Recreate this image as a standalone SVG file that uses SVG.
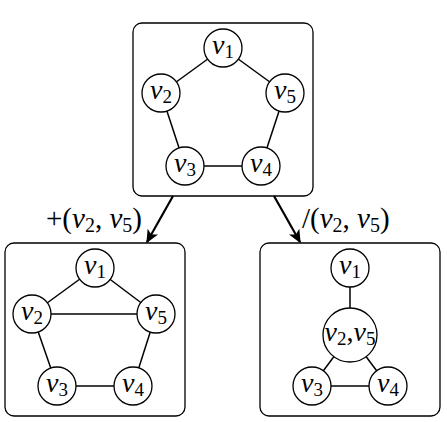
<svg xmlns="http://www.w3.org/2000/svg" width="447" height="422" viewBox="0 0 447 422">
<style>
.box{fill:#fff;stroke:#000;stroke-width:1.3}
.node{fill:#fff;stroke:#000;stroke-width:1.3}
.edge{stroke:#000;stroke-width:1.5;fill:none}
.arr{stroke:#000;stroke-width:2.2;fill:none}
text{font-family:"Liberation Serif","DejaVu Serif",serif;fill:#000}
.lbl{font-size:28px;text-anchor:middle}
.v{font-style:italic}
.s{font-size:19px}
.el{font-size:29px}
.es{font-size:20px}
</style>
<defs>
<marker id="ah" viewBox="0 0 10 10" refX="9" refY="5" markerWidth="6" markerHeight="6" orient="auto" markerUnits="strokeWidth">
<path d="M0,0.5 L10,5 L0,9.5 L2.5,5 Z" fill="#000"/>
</marker>
</defs>
<rect class="box" x="133" y="23" width="180" height="173" rx="9"/>
<rect class="box" x="5" y="243" width="180" height="173" rx="9"/>
<rect class="box" x="260" y="243" width="180" height="173" rx="9"/>
<g id="connectors">
<line class="edge" x1="223" y1="48" x2="161" y2="93"/>
<line class="edge" x1="223" y1="48" x2="285" y2="93"/>
<line class="edge" x1="161" y1="93" x2="185" y2="166"/>
<line class="edge" x1="285" y1="93" x2="261" y2="166"/>
<line class="edge" x1="185" y1="166" x2="261" y2="166"/>
<line class="edge" x1="95" y1="268" x2="32" y2="314"/>
<line class="edge" x1="95" y1="268" x2="156" y2="314"/>
<line class="edge" x1="32" y1="314" x2="156" y2="314"/>
<line class="edge" x1="32" y1="314" x2="57" y2="386"/>
<line class="edge" x1="156" y1="314" x2="133" y2="386"/>
<line class="edge" x1="57" y1="386" x2="133" y2="386"/>
<line class="edge" x1="350" y1="268" x2="350" y2="335"/>
<line class="edge" x1="350" y1="335" x2="312" y2="386"/>
<line class="edge" x1="350" y1="335" x2="388" y2="386"/>
<line class="edge" x1="312" y1="386" x2="388" y2="386"/>
<line class="arr" x1="173" y1="196" x2="147" y2="242" marker-end="url(#ah)"/>
<line class="arr" x1="274" y1="196" x2="300" y2="242" marker-end="url(#ah)"/>
</g>
<g id="t1"><circle class="node" cx="223" cy="48" r="19"/><text class="lbl" x="223" y="54"><tspan class="v">v</tspan><tspan class="s" dy="4">1</tspan></text></g>
<g id="t2"><circle class="node" cx="161" cy="93" r="19"/><text class="lbl" x="161" y="99"><tspan class="v">v</tspan><tspan class="s" dy="4">2</tspan></text></g>
<g id="t5"><circle class="node" cx="285" cy="93" r="19"/><text class="lbl" x="285" y="99"><tspan class="v">v</tspan><tspan class="s" dy="4">5</tspan></text></g>
<g id="t3"><circle class="node" cx="185" cy="166" r="19"/><text class="lbl" x="185" y="172"><tspan class="v">v</tspan><tspan class="s" dy="4">3</tspan></text></g>
<g id="t4"><circle class="node" cx="261" cy="166" r="19"/><text class="lbl" x="261" y="172"><tspan class="v">v</tspan><tspan class="s" dy="4">4</tspan></text></g>
<g id="l1"><circle class="node" cx="95" cy="268" r="19"/><text class="lbl" x="95" y="274"><tspan class="v">v</tspan><tspan class="s" dy="4">1</tspan></text></g>
<g id="l2"><circle class="node" cx="32" cy="314" r="19"/><text class="lbl" x="32" y="320"><tspan class="v">v</tspan><tspan class="s" dy="4">2</tspan></text></g>
<g id="l5"><circle class="node" cx="156" cy="314" r="19"/><text class="lbl" x="156" y="320"><tspan class="v">v</tspan><tspan class="s" dy="4">5</tspan></text></g>
<g id="l3"><circle class="node" cx="57" cy="386" r="19"/><text class="lbl" x="57" y="392"><tspan class="v">v</tspan><tspan class="s" dy="4">3</tspan></text></g>
<g id="l4"><circle class="node" cx="133" cy="386" r="19"/><text class="lbl" x="133" y="392"><tspan class="v">v</tspan><tspan class="s" dy="4">4</tspan></text></g>
<g id="r1"><circle class="node" cx="350" cy="268" r="19"/><text class="lbl" x="350" y="274"><tspan class="v">v</tspan><tspan class="s" dy="4">1</tspan></text></g>
<g id="r25"><circle class="node" cx="350" cy="335" r="27"/><text class="lbl" x="350" y="341"><tspan class="v">v</tspan><tspan class="s" dy="4">2</tspan><tspan dy="-4">,</tspan><tspan class="v">v</tspan><tspan class="s" dy="4">5</tspan></text></g>
<g id="r3"><circle class="node" cx="312" cy="386" r="19"/><text class="lbl" x="312" y="392"><tspan class="v">v</tspan><tspan class="s" dy="4">3</tspan></text></g>
<g id="r4"><circle class="node" cx="388" cy="386" r="19"/><text class="lbl" x="388" y="392"><tspan class="v">v</tspan><tspan class="s" dy="4">4</tspan></text></g>
<g id="edge-labels">
<text class="el" x="46" y="228">+(<tspan class="v">v</tspan><tspan class="es" dy="4">2</tspan><tspan dy="-4">, </tspan><tspan class="v">v</tspan><tspan class="es" dy="4">5</tspan><tspan dy="-4">)</tspan></text>
<text class="el" x="302" y="228">/(<tspan class="v">v</tspan><tspan class="es" dy="4">2</tspan><tspan dy="-4">, </tspan><tspan class="v">v</tspan><tspan class="es" dy="4">5</tspan><tspan dy="-4">)</tspan></text>
</g>
</svg>
